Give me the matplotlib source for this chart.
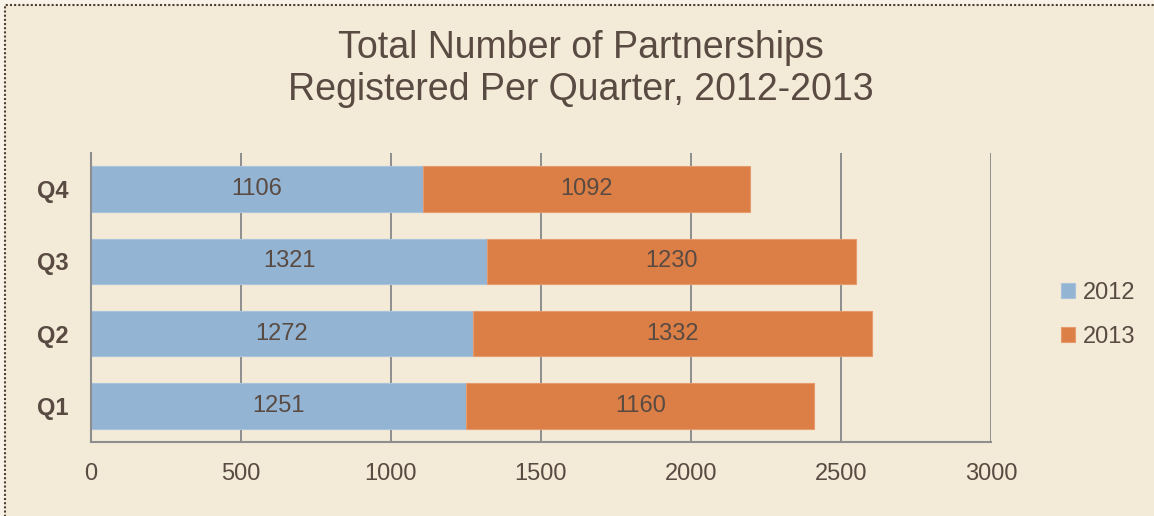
import numpy as np
import matplotlib
matplotlib.use("Agg")
from matplotlib import pyplot as plt
from matplotlib.patches import Rectangle

quarters = ["Q1", "Q2", "Q3", "Q4"]
series_names = ["2012", "2013"]
values_2012 = [1251, 1272, 1321, 1106]
values_2013 = [1160, 1332, 1230, 1092]
x_ticks = [0, 500, 1000, 1500, 2000, 2500, 3000]
title = "Total Number of Partnerships\nRegistered Per Quarter, 2012-2013"

BG = "#F3EAD8"
TEXT = "#594A42"
BLUE = "#93B4D3"
ORANGE = "#DC7F47"
GRID = "#8E8E8E"

plt.rcParams["font.family"] = ["Liberation Sans", "DejaVu Sans"]

fig = plt.figure(figsize=(11.54, 5.16), dpi=100)
fig.patch.set_facecolor("#F8F2E8")
frame = Rectangle((5 / 1154, -0.05), 1.2, 1 - 5 / 516 + 0.05,
                  transform=fig.transFigure, facecolor=BG,
                  edgecolor="#4E3F2E", linestyle=(0, (1, 1)),
                  linewidth=1.5, zorder=-10)
fig.patches.append(frame)

ax = fig.add_axes([91 / 1154, 1 - 442 / 516, 900 / 1154, 289 / 516])
ax.set_zorder(1)
ax.set_facecolor("none")

y = np.arange(len(quarters))
h = 0.63
b1 = ax.barh(y, values_2012, height=h, color=BLUE, edgecolor="#A9C3DC",
             linewidth=0.8, label=series_names[0], zorder=2)
b2 = ax.barh(y, values_2013, height=h, left=values_2012, color=ORANGE,
             edgecolor="#E79A6C", linewidth=0.8, label=series_names[1], zorder=2)
ax.bar_label(b1, label_type="center", fontsize=17, color=TEXT)
ax.bar_label(b2, label_type="center", fontsize=17, color=TEXT)

ax.set_xlim(0, 3000)
ax.set_ylim(-0.5, 3.5)
ax.set_xticks(x_ticks)
ax.set_yticks(y, quarters)
ax.tick_params(axis="both", length=0, labelsize=17, labelcolor=TEXT)
ax.tick_params(axis="x", pad=15)
ax.tick_params(axis="y", pad=16)
for lbl in ax.get_yticklabels():
    lbl.set_fontweight("bold")

ax.grid(axis="x", color=GRID, linewidth=1.4, zorder=1)
ax.set_axisbelow(True)
for side in ["top", "right"]:
    ax.spines[side].set_visible(False)
for side in ["left", "bottom"]:
    ax.spines[side].set_color(GRID)
    ax.spines[side].set_linewidth(1.5)

handles = [b1, b2]
leg = fig.legend(handles, series_names, loc="center left",
                 bbox_to_anchor=(1040 / 1154, 1 - 315 / 516), frameon=False,
                 fontsize=17, handlelength=0.6, handleheight=0.6,
                 handletextpad=0.3, labelspacing=0.95)
for t in leg.get_texts():
    t.set_color(TEXT)

fig.text(581 / 1154, 1 - 69 / 516, title, ha="center", va="center",
         fontsize=27, color=TEXT, linespacing=1.25)

fig.savefig("out.png", dpi=100, facecolor=fig.get_facecolor())
